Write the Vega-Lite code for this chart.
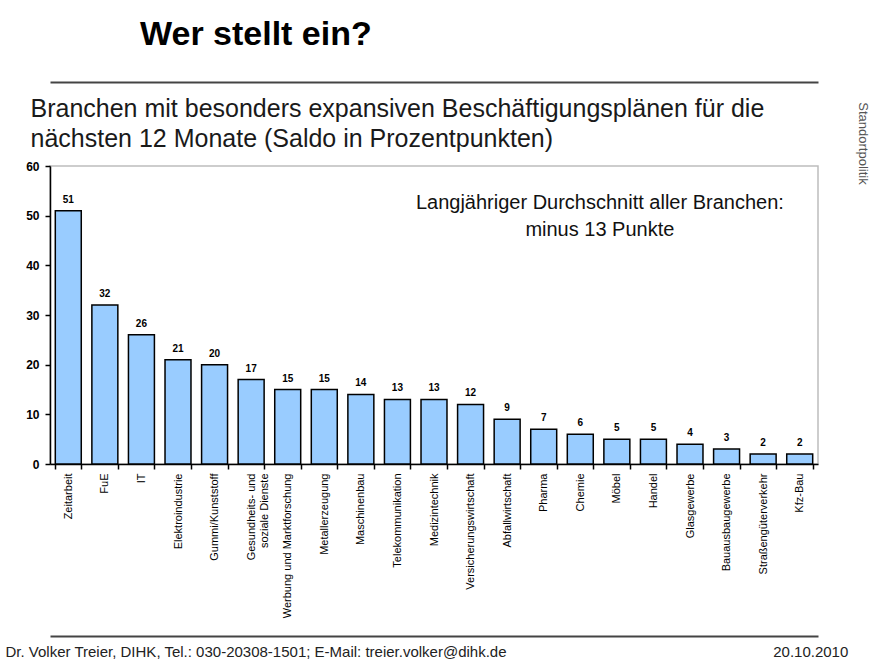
{
  "$schema": "https://vega.github.io/schema/vega-lite/v6.json",
  "width": 768,
  "height": 298,
  "autosize": {"type": "none"},
  "padding": {"left": 50, "top": 166, "right": 57, "bottom": 202},
  "background": "white",
  "config": {
    "font": "Liberation Sans",
    "view": {"stroke": "#bdbdbd", "strokeWidth": 1.5}
  },
  "title": {
    "text": "Wer stellt ein?",
    "anchor": "start",
    "frame": "group",
    "dx": 90,
    "offset": 30,
    "fontSize": 34,
    "fontWeight": "bold",
    "color": "black",
    "font": "Liberation Sans"
  },
  "datasets": {
    "branchen": [
      {"Branche": "Zeitarbeit", "Saldo": 51},
      {"Branche": "FuE", "Saldo": 32},
      {"Branche": "IT", "Saldo": 26},
      {"Branche": "Elektroindustrie", "Saldo": 21},
      {"Branche": "Gummi/Kunststoff", "Saldo": 20},
      {"Branche": "Gesundheits- und soziale Dienste", "Saldo": 17},
      {"Branche": "Werbung und Marktforschung", "Saldo": 15},
      {"Branche": "Metallerzeugung", "Saldo": 15},
      {"Branche": "Maschinenbau", "Saldo": 14},
      {"Branche": "Telekommunikation", "Saldo": 13},
      {"Branche": "Medizintechnik", "Saldo": 13},
      {"Branche": "Versicherungswirtschaft", "Saldo": 12},
      {"Branche": "Abfallwirtschaft", "Saldo": 9},
      {"Branche": "Pharma", "Saldo": 7},
      {"Branche": "Chemie", "Saldo": 6},
      {"Branche": "Möbel", "Saldo": 5},
      {"Branche": "Handel", "Saldo": 5},
      {"Branche": "Glasgewerbe", "Saldo": 4},
      {"Branche": "Bauausbaugewerbe", "Saldo": 3},
      {"Branche": "Straßengüterverkehr", "Saldo": 2},
      {"Branche": "Kfz-Bau", "Saldo": 2}
    ],
    "note": [
      {"Branche": "Möbel", "Saldo": 52.5, "text": ["Langjähriger Durchschnitt aller Branchen:", "minus 13 Punkte"]}
    ]
  },
  "layer": [
    {
      "data": {"name": "branchen"},
      "mark": {"type": "bar", "fill": "#99ccff", "stroke": "black", "strokeWidth": 1.5},
      "encoding": {
        "x": {
          "field": "Branche",
          "type": "nominal",
          "sort": null,
          "scale": {
            "domain": ["Zeitarbeit", "FuE", "IT", "Elektroindustrie", "Gummi/Kunststoff", "Gesundheits- und soziale Dienste", "Werbung und Marktforschung", "Metallerzeugung", "Maschinenbau", "Telekommunikation", "Medizintechnik", "Versicherungswirtschaft", "Abfallwirtschaft", "Pharma", "Chemie", "Möbel", "Handel", "Glasgewerbe", "Bauausbaugewerbe", "Straßengüterverkehr", "Kfz-Bau"],
            "paddingInner": 0.29,
            "paddingOuter": 0.145
          },
          "axis": {
            "orient": "bottom",
            "labelAngle": 270,
            "labelFontSize": 11,
            "labelColor": "black",
            "labelPadding": 4,
            "labelLineHeight": 13,
            "labelExpr": "datum.value == 'Gesundheits- und soziale Dienste' ? ['Gesundheits- und', 'soziale Dienste'] : datum.value",
            "tickSize": 5,
            "tickColor": "black",
            "tickWidth": 1.5,
            "tickBand": "extent",
            "domainColor": "black",
            "domainWidth": 1.5,
            "title": "Dr. Volker Treier, DIHK, Tel.: 030-20308-1501; E-Mail: treier.volker@dihk.de\u00a0\u00a0\u00a0\u00a0\u00a0\u00a0\u00a0\u00a0\u00a0\u00a0\u00a0\u00a0\u00a0\u00a0\u00a0\u00a0\u00a0\u00a0\u00a0\u00a0\u00a0\u00a0\u00a0\u00a0\u00a0\u00a0\u00a0\u00a0\u00a0\u00a0\u00a0\u00a0\u00a0\u00a0\u00a0\u00a0\u00a0\u00a0\u00a0\u00a0\u00a0\u00a0\u00a0\u00a0\u00a0\u00a0\u00a0\u00a0\u00a0\u00a0\u00a0\u00a0\u00a0\u00a0\u00a0\u00a0\u00a0\u00a0\u00a0\u00a0\u00a0\u00a0\u00a0\u00a020.10.2010",
            "titleX": -45,
            "titleY": 187,
            "titleAlign": "left",
            "titleAngle": 0,
            "titleBaseline": "middle",
            "titleFontSize": 15,
            "titleFontWeight": "normal",
            "titleColor": "#222222"
          }
        },
        "y": {
          "field": "Saldo",
          "type": "quantitative",
          "scale": {"domain": [0, 60]},
          "axis": {
            "values": [0, 10, 20, 30, 40, 50, 60],
            "grid": false,
            "labelFontSize": 12,
            "labelFontWeight": "bold",
            "labelColor": "black",
            "labelPadding": 6,
            "tickSize": 5,
            "tickColor": "black",
            "tickWidth": 1.5,
            "domainColor": "black",
            "domainWidth": 1.5,
            "title": ["Branchen mit besonders expansiven Beschäftigungsplänen für die", "nächsten 12 Monate (Saldo in Prozentpunkten)"],
            "titleAngle": 0,
            "titleAlign": "left",
            "titleBaseline": "alphabetic",
            "titleX": -20,
            "titleY": -50,
            "titleLineHeight": 30,
            "titleFontSize": 25,
            "titleFontWeight": "normal",
            "titleColor": "#1a1a1a"
          }
        }
      }
    },
    {
      "data": {"name": "branchen"},
      "mark": {"type": "text", "baseline": "bottom", "dy": -6, "fontSize": 10, "fontWeight": "bold", "color": "black"},
      "encoding": {
        "x": {
          "field": "Branche",
          "type": "nominal",
          "sort": null,
          "axis": {
            "orient": "bottom",
            "labels": false,
            "ticks": false,
            "domain": true,
            "domainColor": "#444444",
            "domainWidth": 2,
            "offset": 172,
            "title": null
          }
        },
        "y": {"field": "Saldo", "type": "quantitative", "axis": null},
        "text": {"field": "Saldo", "type": "quantitative"}
      }
    },
    {
      "data": {"name": "note"},
      "mark": {"type": "text", "baseline": "middle", "align": "center", "fontSize": 20, "lineHeight": 27, "color": "#111111", "dx": -4},
      "encoding": {
        "x": {
          "field": "Branche",
          "type": "nominal",
          "sort": null,
          "bandPosition": 0,
          "axis": {
            "orient": "top",
            "labels": false,
            "ticks": false,
            "domain": true,
            "domainColor": "#444444",
            "domainWidth": 2,
            "offset": 84,
            "title": null
          }
        },
        "y": {
          "field": "Saldo",
          "type": "quantitative",
          "axis": {
            "orient": "right",
            "labels": false,
            "ticks": false,
            "domain": false,
            "grid": false,
            "title": "Standortpolitik",
            "titleAngle": 90,
            "titleX": 44,
            "titleY": -23,
            "titleAlign": "center",
            "titleBaseline": "middle",
            "titleFontSize": 13,
            "titleFontWeight": "normal",
            "titleColor": "#555555"
          }
        },
        "text": {"field": "text"}
      }
    }
  ],
  "resolve": {"axis": {"x": "independent", "y": "independent"}}
}
